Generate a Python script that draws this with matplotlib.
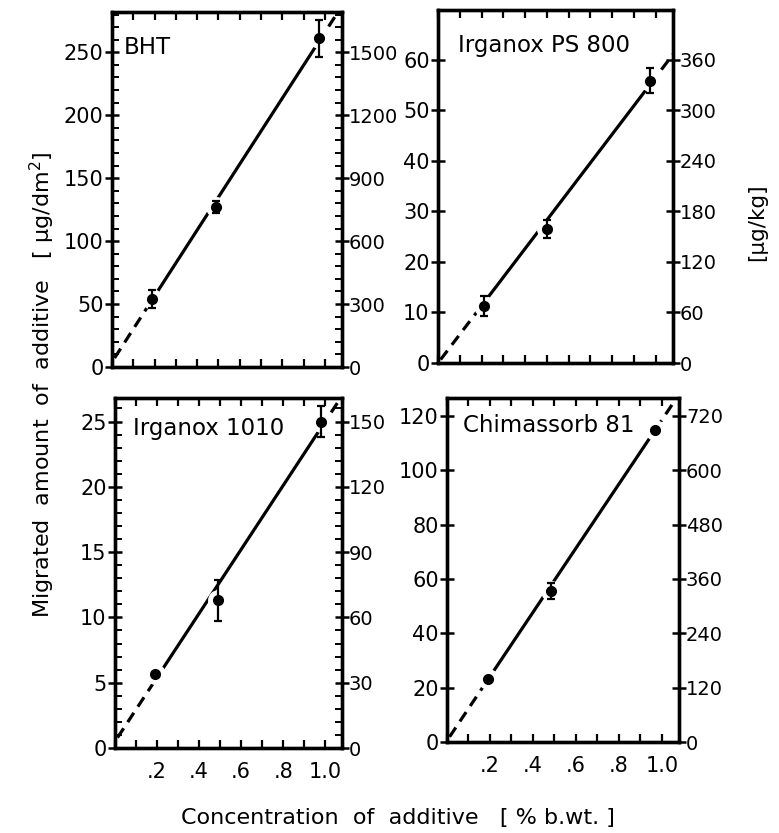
import numpy as np
import matplotlib
matplotlib.use("Agg")
import matplotlib.pyplot as plt
from matplotlib.ticker import MultipleLocator, FixedLocator, FixedFormatter, NullLocator

plt.rcParams["font.family"] = "DejaVu Sans"
plt.rcParams["font.size"] = 15

# panel data: concentration (% b.wt.), migrated amount (ug/dm2) and error
names = ["BHT", "Irganox PS 800", "Irganox 1010", "Chimassorb 81"]
conc_bht = [0.19, 0.49, 0.97]
conc_ps800 = [0.21, 0.50, 0.975]
conc_1010 = [0.19, 0.49, 0.98]
conc_chim = [0.19, 0.485, 0.97]
amount_bht = [54, 127, 261]
amount_ps800 = [11.2, 26.5, 55.8]
amount_1010 = [5.7, 11.3, 25.0]
amount_chim = [23.2, 55.5, 114.7]
err_bht = [7, 5, 15]
err_ps800 = [2.0, 1.8, 2.5]
err_1010 = [0, 1.6, 1.2]
err_chim = [0, 3, 0]
# regression line (intercept, slope)
fit_bht = (4, 262)
fit_ps800 = (0, 56.5)
fit_1010 = (0.5, 24.5)
fit_chim = (0.5, 118)
# left axis range / major / minor step
ylim_list = [282, 69.8, 26.8, 126.6]
major_list = [50, 10, 5, 20]
minor_list = [10, None, 1, None]
kg_factor = 6  # ug/kg per ug/dm2

concs = [conc_bht, conc_ps800, conc_1010, conc_chim]
amounts = [amount_bht, amount_ps800, amount_1010, amount_chim]
errs = [err_bht, err_ps800, err_1010, err_chim]
fits = [fit_bht, fit_ps800, fit_1010, fit_chim]

W, H = 779, 833
boxes = [(112, 12, 342, 367), (438, 10, 673, 363),
         (115, 398, 342, 748), (447, 398, 679, 742)]
label_pos = [(0.05, 0.90), (0.085, 0.90), (0.08, 0.914), (0.07, 0.92)]

fig = plt.figure(figsize=(W / 100, H / 100), dpi=100)
xmax = 1.08
dash = (0, (3.5, 2.3))

for i in range(4):
    x0, y0, x1, y1 = boxes[i]
    ax = fig.add_axes([x0 / W, 1 - y1 / H, (x1 - x0) / W, (y1 - y0) / H])
    ax2 = ax.twinx()
    ax.set_zorder(ax2.get_zorder() + 1)
    ax.patch.set_visible(False)

    x = np.array(concs[i])
    y = np.array(amounts[i])
    b, m = fits[i]
    ytop = ylim_list[i]
    xend = min(xmax, (ytop - b) / m)
    lw = 2.3
    ax.plot([0.012, x[0]], [b + m * 0.012, b + m * x[0]], color="black", lw=lw,
            ls=dash, solid_capstyle="butt", zorder=2)
    ax.plot([x[0], x[2]], [b + m * x[0], b + m * x[2]], color="black", lw=lw, zorder=2)
    ax.plot([x[2], xend], [b + m * x[2], b + m * xend], color="black", lw=lw,
            ls=dash, solid_capstyle="butt", zorder=2)
    ax.plot(x, y, "o", ms=14, color="white", zorder=3)
    e = np.array(errs[i], dtype=float)
    ax.errorbar(x, y, yerr=np.where(e > 0, e, np.nan), fmt="o", ms=7, color="black",
                elinewidth=1.6, capsize=3, capthick=1.6, zorder=4)

    ax.set_xlim(0, xmax)
    ax.set_ylim(0, ytop)
    ax2.set_ylim(0, ytop * kg_factor)

    ax.yaxis.set_major_locator(MultipleLocator(major_list[i]))
    ax2.yaxis.set_major_locator(MultipleLocator(major_list[i] * kg_factor))
    if minor_list[i]:
        ax.yaxis.set_minor_locator(MultipleLocator(minor_list[i]))
        ax2.yaxis.set_minor_locator(MultipleLocator(minor_list[i] * kg_factor))
    else:
        ax.yaxis.set_minor_locator(NullLocator())
        ax2.yaxis.set_minor_locator(NullLocator())

    ax.xaxis.set_minor_locator(MultipleLocator(0.1))
    if i >= 2:
        ax.xaxis.set_major_locator(FixedLocator([0.2, 0.4, 0.6, 0.8, 1.0]))
        ax.xaxis.set_major_formatter(FixedFormatter([".2", ".4", ".6", ".8", "1.0"]))
    else:
        ax.xaxis.set_major_locator(NullLocator())

    for a in (ax, ax2):
        for s in a.spines.values():
            s.set_linewidth(2.4)
    ax.tick_params(axis="y", which="major", direction="inout", length=10, width=1.8, pad=1)
    ax.tick_params(axis="y", which="minor", direction="in", length=5, width=1.4)
    ax2.tick_params(axis="y", which="major", direction="inout", length=10, width=1.8,
                    pad=0, labelsize=14)
    ax2.tick_params(axis="y", which="minor", direction="in", length=5, width=1.4)
    ax.tick_params(axis="x", which="both", direction="in", top=True, length=6, width=1.6, pad=10)

    ax.text(label_pos[i][0], label_pos[i][1], names[i], transform=ax.transAxes,
            ha="left", va="center", fontsize=16.5)

fig.text(42 / W, 1 - 385 / H, "Migrated  amount  of  additive   [ µg/dm$\\mathregular{^2}$]",
         rotation=90, ha="center", va="center", fontsize=16)
fig.text(757 / W, 1 - 222 / H, "[µg/kg]", rotation=90, ha="center", va="center", fontsize=15.5)
fig.text(398 / W, 1 - 818 / H, "Concentration  of  additive   [ % b.wt. ]",
         ha="center", va="center", fontsize=16)

fig.savefig("out.png", dpi=100)
